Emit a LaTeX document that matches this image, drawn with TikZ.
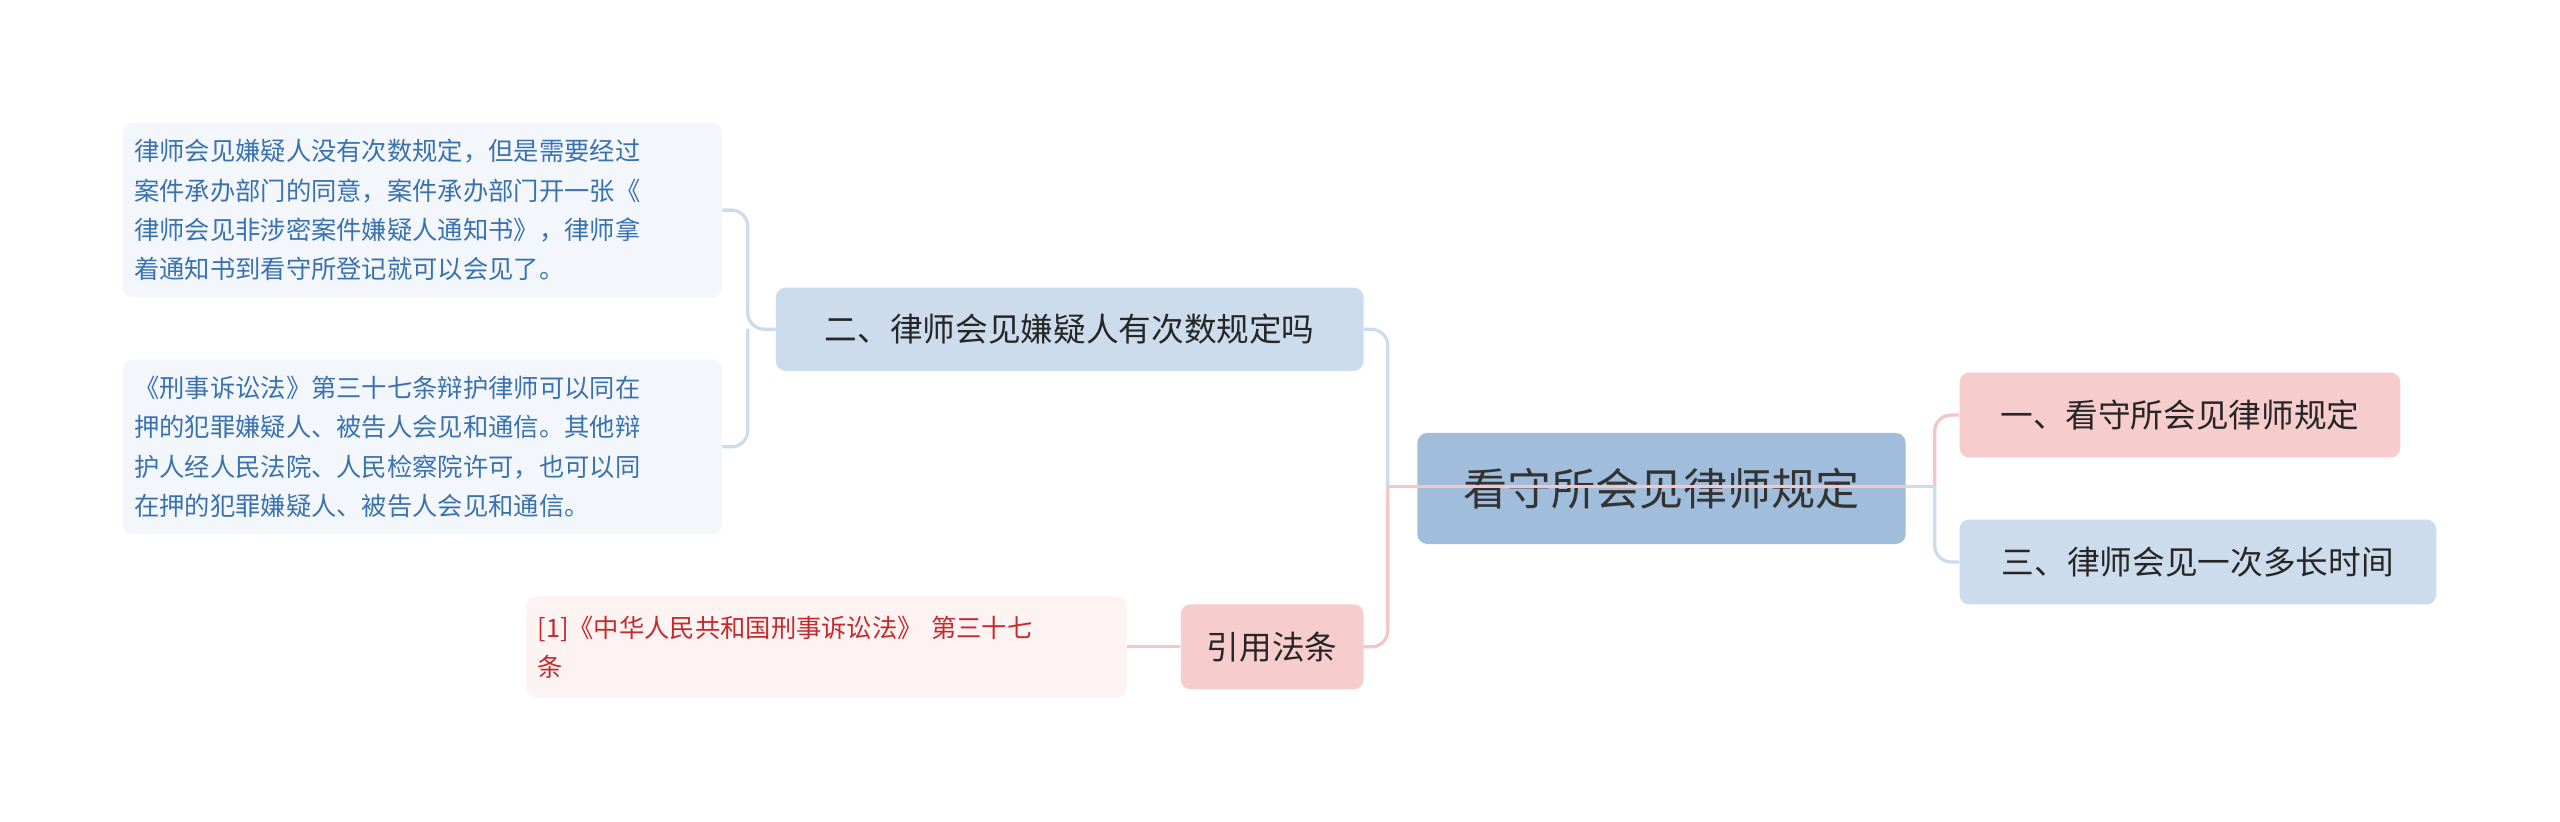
\documentclass[tikz,border=0pt]{standalone}
\usepackage{fontspec}
\setmainfont{Noto Sans CJK SC}
\definecolor{lb}{HTML}{CCDCEC}\definecolor{lp}{HTML}{F6CCCC}
\definecolor{cb}{HTML}{CCDCEC}\definecolor{cp}{HTML}{F4C6C6}
\definecolor{rootc}{HTML}{A0BEDB}
\definecolor{lf}{HTML}{F3F7FC}\definecolor{lf2}{HTML}{FDF3F3}
\definecolor{tb}{HTML}{3A72B0}\definecolor{tr}{HTML}{C42B2D}
\begin{document}
\begin{tikzpicture}[x=1pt,y=-1pt,
 box/.style={rounded corners=6pt,inner sep=0pt,anchor=north west},
 blue1/.style={box,fill=lb,text=black!85,font=\fontsize{20}{24}\selectfont},
 pink1/.style={box,fill=lp,text=black!85,font=\fontsize{20}{24}\selectfont},
 leaf/.style={box,align=left,font=\fontsize{15.5}{24}\selectfont},
 lnb/.style={draw=cb,line width=2pt,rounded corners=10pt},
 lnp/.style={draw=cp,line width=2pt,rounded corners=10pt}]
\useasboundingbox (0,0) rectangle (1568,503);
\fill[white] (0,0) rectangle (1568,503);
\node[box,fill=rootc,minimum width=299pt,minimum height=68pt,font=\fontsize{27}{30}\selectfont,text=black!80] (root) at (868,265) {看守所会见律师规定};
\node[pink1,minimum width=270pt,minimum height=52pt] (r1) at (1200,228) {一、看守所会见律师规定};
\node[blue1,minimum width=292pt,minimum height=52pt] (r3) at (1200,318) {三、律师会见一次多长时间};
\node[blue1,minimum width=360pt,minimum height=51pt] (l2) at (475,176) {二、律师会见嫌疑人有次数规定吗};
\node[pink1,minimum width=112pt,minimum height=52pt] (ly) at (723,370) {引用法条};
\node[leaf,fill=lf,text=tb,minimum width=367pt,minimum height=107pt,text width=353pt] (a) at (75,75) {律师会见嫌疑人没有次数规定，但是需要经过\\案件承办部门的同意，案件承办部门开一张《\\律师会见非涉密案件嫌疑人通知书》，律师拿\\着通知书到看守所登记就可以会见了。};
\node[leaf,fill=lf,text=tb,minimum width=367pt,minimum height=107pt,text width=353pt] (b) at (75,220) {《刑事诉讼法》第三十七条辩护律师可以同在\\押的犯罪嫌疑人、被告人会见和通信。其他辩\\护人经人民法院、人民检察院许可，也可以同\\在押的犯罪嫌疑人、被告人会见和通信。};
\node[leaf,fill=lf2,text=tr,minimum width=368pt,minimum height=62pt,text width=354pt] (c) at (322,365) {[1]《中华人民共和国刑事诉讼法》 第三十七\\条};
\coordinate (sl) at (850,298);
\coordinate (sr) at (1185,298);
\draw[lnb] (sl) |- (l2.east);
\draw[lnp] (sl) |- (ly.east);
\draw[lnb] (l2.west) -- (458,201.5) |- (a.east);
\draw[lnb] (458,201.5) |- (b.east);
\draw[lnp] (ly.west) -- (c.east);
\draw[lnp] (sr) |- (r1.west);
\draw[lnb] (sr) |- (r3.west);
\draw[cp,line width=2pt] (sl) -- (root.east|-sl);
\draw[cb,line width=2pt] (root.east|-sl) -- (sr);
\end{tikzpicture}
\end{document}
